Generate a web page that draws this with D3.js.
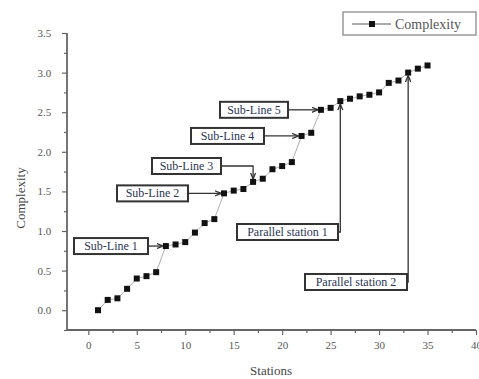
<!DOCTYPE html>
<html>
<head>
<meta charset="utf-8">
<script src="https://cdn.jsdelivr.net/npm/d3@7"></script>
<style>
  body { margin: 0; background: #fff; }
  text { font-family: "Liberation Serif", "Times New Roman", serif; }
</style>
</head>
<body>
<div id="chart"></div>
<script>
const stations = d3.range(1, 36);
const complexity = [0.0, 0.13, 0.15, 0.27, 0.40, 0.43, 0.48, 0.81, 0.83, 0.86,
  0.98, 1.10, 1.15, 1.475, 1.51, 1.53, 1.62, 1.66, 1.78, 1.82,
  1.87, 2.20, 2.24, 2.53, 2.555, 2.64, 2.67, 2.70, 2.72, 2.75,
  2.87, 2.90, 3.00, 3.05, 3.09];
const xTicks = [0, 5, 10, 15, 20, 25, 30, 35, 40];
const yTicks = [0.0, 0.5, 1.0, 1.5, 2.0, 2.5, 3.0, 3.5];
const noteLabels = ["Sub-Line 1", "Sub-Line 2", "Sub-Line 3", "Sub-Line 4", "Sub-Line 5",
  "Parallel station 1", "Parallel station 2"];
const noteStations = [8, 14, 17, 22, 24, 26, 33];

const width = 479, height = 379;
const svg = d3.select("#chart").append("svg")
  .attr("width", width).attr("height", height);

const x = d3.scaleLinear().domain([-2.2, 40]).range([67, 476]);
const y = d3.scaleLinear().domain([-0.25, 3.5]).range([330, 33]);

// arrow marker
svg.append("defs").append("marker")
  .attr("id", "arr").attr("viewBox", "0 0 10 10")
  .attr("refX", 9).attr("refY", 5)
  .attr("markerWidth", 5).attr("markerHeight", 5)
  .attr("orient", "auto")
  .append("path").attr("d", "M0,1L10,5L0,9").attr("fill", "none")
  .attr("stroke", "#333").attr("stroke-width", 2);

// axes
const axisCol = "#666";
const xAxis = svg.append("g").attr("transform", "translate(0,330)")
  .call(d3.axisBottom(x).tickValues(xTicks).tickSize(5).tickFormat(d3.format("d")));
svg.append("g").attr("transform", "translate(0,330)")
  .call(d3.axisBottom(x).tickValues(d3.range(2.5, 40, 5)).tickSize(3).tickFormat(""))
  .select(".domain").remove();
const yAxis = svg.append("g").attr("transform", "translate(67,0)")
  .call(d3.axisLeft(y).tickValues(yTicks).tickSize(5).tickFormat(d3.format(".1f")));
svg.append("g").attr("transform", "translate(67,0)")
  .call(d3.axisLeft(y).tickValues(d3.range(-0.25, 3.5, 0.5)).tickSize(3).tickFormat(""))
  .select(".domain").remove();

svg.selectAll(".domain").attr("stroke", axisCol).attr("stroke-width", 1.8);
svg.selectAll(".tick line").attr("stroke", axisCol).attr("stroke-width", 1.2);
svg.selectAll(".tick text").attr("fill", "#555").attr("font-size", 11)
  .attr("font-family", "Liberation Serif, serif");
xAxis.selectAll(".tick text").attr("dy", "1.0em");
yAxis.selectAll(".tick text").attr("dx", "-0.7em");
// square axis ends (no outer ticks)
xAxis.select(".domain").attr("d", `M${x(-2.2)},0H${x(40)}`);
yAxis.select(".domain").attr("d", `M0,${y(3.5)}V${y(-0.25)}`);

svg.append("text").attr("x", 271).attr("y", 375).attr("text-anchor", "middle")
  .attr("font-size", 13).attr("fill", "#444").text("Stations");
svg.append("text").attr("transform", "translate(25,198) rotate(-90)")
  .attr("text-anchor", "middle").attr("font-size", 13).attr("fill", "#444").text("Complexity");

// line + markers
const pts = stations.map((s, i) => [s, complexity[i]]);
svg.append("path").datum(pts)
  .attr("d", d3.line().x(d => x(d[0])).y(d => y(d[1])))
  .attr("fill", "none").attr("stroke", "#999").attr("stroke-width", 0.8);
svg.selectAll("rect.pt").data(pts).join("rect").attr("class", "pt")
  .attr("x", d => x(d[0]) - 3).attr("y", d => y(d[1]) - 3)
  .attr("width", 6).attr("height", 6).attr("fill", "#111");

// annotations: layout [boxLeft, boxWidth, kind, boxTop(for non-horizontal)]
const noteLayout = [
  [74, 74, "h"], [117, 71, "h"], [152, 69, "elbow", 158], [191, 73, "h"], [220, 68, "h"],
  [237, 101, "v", 224], [305, 102, "v", 274]
];
const bh = 16;
noteLabels.forEach((lab, i) => {
  const s = noteStations[i];
  const px = x(s), py = y(complexity[s - 1]);
  const [bx, bw, kind, top] = noteLayout[i];
  const by = (kind === "h") ? py - bh / 2 : top;
  const my = by + bh / 2;
  let d;
  if (kind === "h") d = `M${bx + bw},${my}H${px - 3.5}`;
  else if (kind === "elbow") d = `M${bx + bw},${my}H${px}V${py - 3.5}`;
  else d = `M${bx + bw},${my}H${px}V${py + 3.5}`;
  svg.append("path").attr("d", d).attr("fill", "none")
    .attr("stroke", "#333").attr("stroke-width", 1.3).attr("marker-end", "url(#arr)");
  svg.append("rect").attr("x", bx).attr("y", by).attr("width", bw).attr("height", bh)
    .attr("fill", "#fff").attr("stroke", "#333").attr("stroke-width", 2);
  svg.append("text").attr("x", bx + bw / 2).attr("y", my + 4)
    .attr("text-anchor", "middle").attr("font-size", 12).attr("fill", "#2b3557").text(lab);
});

// legend
const lg = svg.append("g");
lg.append("rect").attr("x", 343).attr("y", 12).attr("width", 133).attr("height", 23)
  .attr("fill", "#fff").attr("stroke", "#999").attr("stroke-width", 1.5);
lg.append("line").attr("x1", 352).attr("x2", 391).attr("y1", 24).attr("y2", 24)
  .attr("stroke", "#555").attr("stroke-width", 1);
lg.append("rect").attr("x", 369).attr("y", 21).attr("width", 6).attr("height", 6).attr("fill", "#111");
lg.append("text").attr("x", 395).attr("y", 29).attr("font-size", 14).attr("fill", "#555").text("Complexity");
</script>
</body>
</html>
